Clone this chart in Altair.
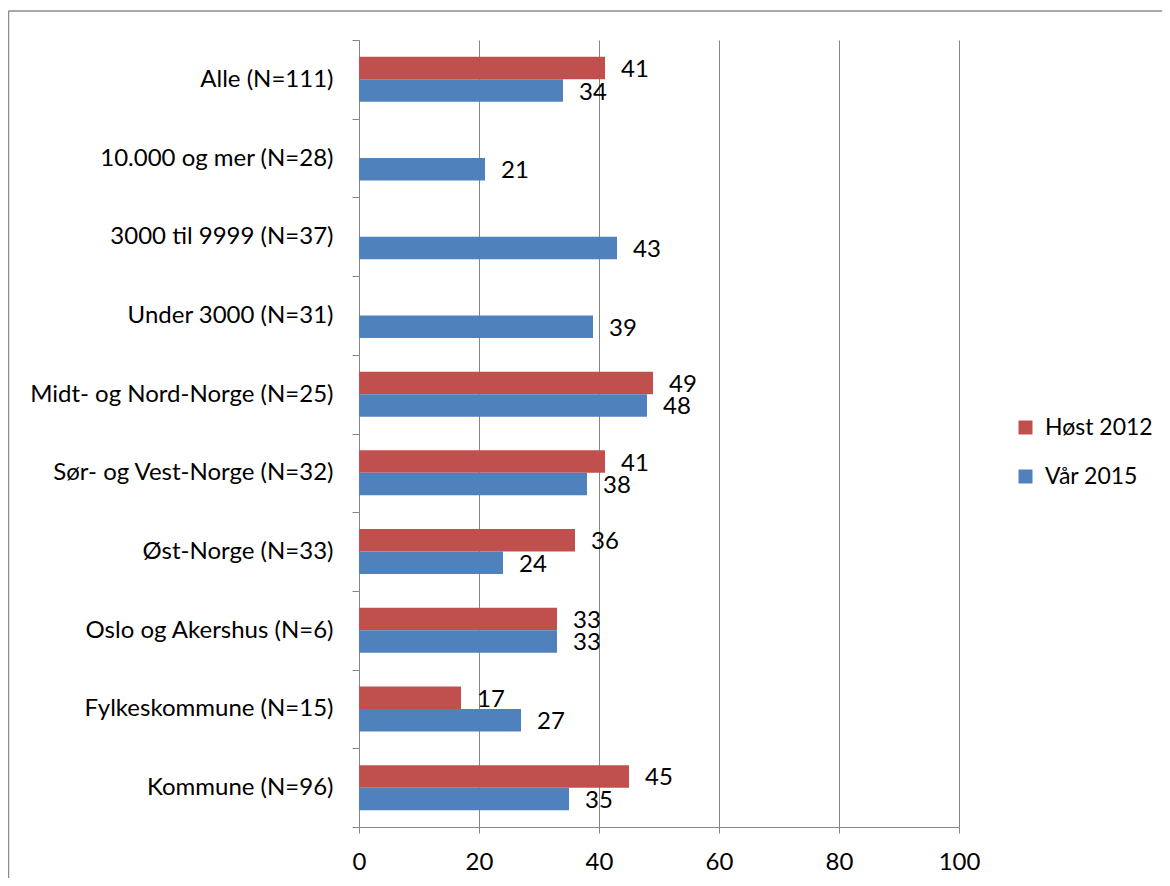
import altair as alt
import pandas as pd

categories = [
    "Alle (N=111)",
    "10.000 og mer (N=28)",
    "3000 til 9999 (N=37)",
    "Under 3000 (N=31)",
    "Midt- og Nord-Norge (N=25)",
    "Sør- og Vest-Norge (N=32)",
    "Øst-Norge (N=33)",
    "Oslo og Akershus (N=6)",
    "Fylkeskommune (N=15)",
    "Kommune (N=96)",
]
host_2012 = [41, None, None, None, 49, 41, 36, 33, 17, 45]
var_2015 = [34, 21, 43, 39, 48, 38, 24, 33, 27, 35]
series = ["Høst 2012", "Vår 2015"]
colors = ["#C0504D", "#4F81BD"]
x_ticks = [0, 20, 40, 60, 80, 100]

rows = []
for c, h, v in zip(categories, host_2012, var_2015):
    rows.append({"kategori": c, "serie": series[0], "verdi": h})
    rows.append({"kategori": c, "serie": series[1], "verdi": v})
df = pd.DataFrame(rows)

FONT = "Lato"
GRAY = "#868686"

y_enc = alt.Y(
    "kategori:N",
    sort=categories,
    title=None,
    scale=alt.Scale(paddingInner=0, paddingOuter=0),
    axis=alt.Axis(
        tickBand="extent",
        grid=False,
        domainColor=GRAY,
        tickColor=GRAY,
        tickSize=7,
        labelPadding=19,
        labelFontSize=24,
        labelFont=FONT,
        labelColor="black",
        labelLimit=400,
    ),
)
yoff_enc = alt.YOffset(
    "serie:N", sort=series, scale=alt.Scale(paddingInner=0, paddingOuter=0.749)
)
x_enc = alt.X(
    "verdi:Q",
    title=None,
    scale=alt.Scale(domain=[0, 100]),
    axis=alt.Axis(
        values=x_ticks,
        grid=True,
        gridColor=GRAY,
        domainColor=GRAY,
        tickColor=GRAY,
        tickSize=6,
        labelPadding=17,
        labelFontSize=24,
        labelFont=FONT,
        labelColor="black",
        labelFlush=False,
    ),
)

base = alt.Chart(df).transform_filter("isValid(datum.verdi)")

bars = base.mark_bar().encode(
    y=y_enc,
    yOffset=yoff_enc,
    x=x_enc,
    color=alt.Color(
        "serie:N",
        sort=series,
        scale=alt.Scale(domain=series, range=colors),
        legend=alt.Legend(
            title=None,
            orient="none",
            legendX=655,
            legendY=376,
            symbolType="square",
            symbolSize=196,
            symbolStrokeWidth=0,
            labelFontSize=23,
            labelFont=FONT,
            labelColor="black",
            labelOffset=8,
            rowPadding=25,
        ),
    ),
)

labels = base.mark_text(
    align="left", baseline="middle", dx=16, dy=2, fontSize=24, font=FONT, color="black"
).encode(
    y=y_enc,
    yOffset=yoff_enc,
    x=x_enc,
    text=alt.Text("verdi:Q", format="d"),
)

dummy = pd.DataFrame({"d": [0]})
border_left = alt.Chart(dummy).mark_rule(color="#8C8C8C", strokeWidth=1.5).encode(
    x=alt.value(-350.5), y=alt.value(-29), y2=alt.value(900)
)
border_top = alt.Chart(dummy).mark_rule(color="#8C8C8C", strokeWidth=1.5).encode(
    x=alt.value(-350.5), x2=alt.value(900), y=alt.value(-29)
)

chart = (
    alt.layer(bars, labels, border_left, border_top)
    .properties(
        width=600,
        height=787,
        autosize=alt.AutoSizeParams(type="none"),
        padding={"left": 351, "top": 32, "right": 203, "bottom": 51},
    )
    .configure(font=FONT)
    .configure_view(stroke="transparent")
)

chart.save("out.html", embed_options={"renderer": "svg", "actions": False})
